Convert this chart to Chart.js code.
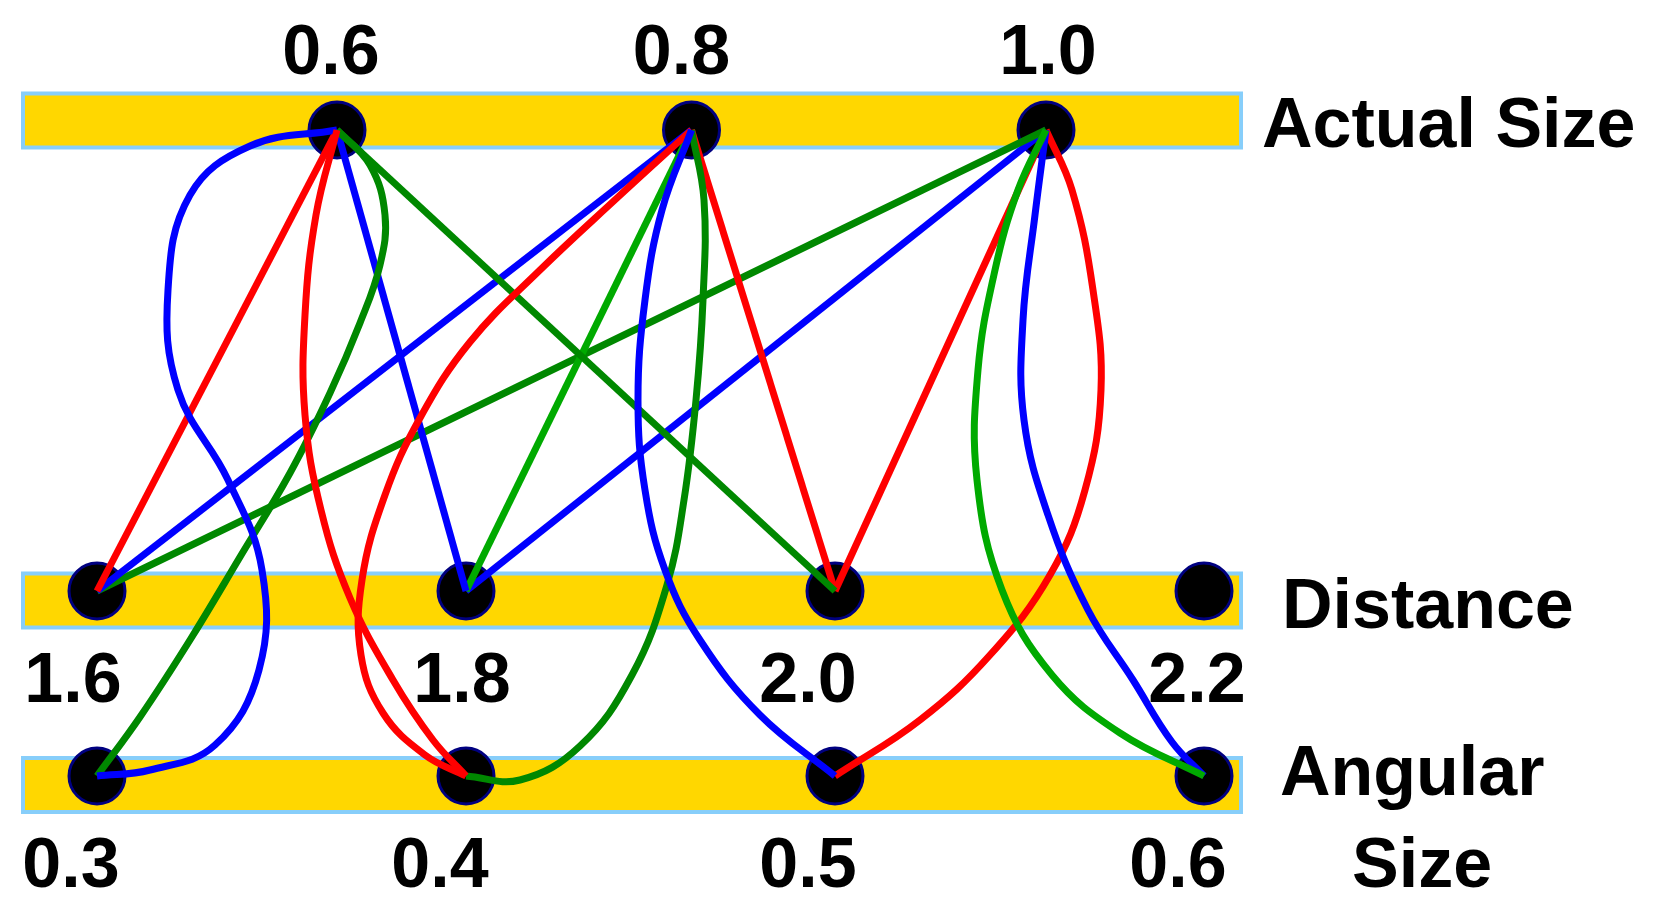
<!DOCTYPE html>
<html>
<head>
<meta charset="utf-8">
<script src="https://cdn.jsdelivr.net/npm/chart.js@4.4.1/dist/chart.umd.min.js"></script>
<style>
  body { margin: 0; background: #fff; }
  #wrap { width: 1653px; height: 912px; position: relative; }
</style>
</head>
<body>
<div id="wrap"><canvas id="myChart"></canvas></div>
<script>
// DATA

var actualSizes  = [0.6, 0.8, 1.0];
var distances    = [1.6, 1.8, 2.0, 2.2];
var angularSizes = [0.3, 0.4, 0.5, 0.6];

// every link: one actual size joined to one distance and to the angular size it gives
var linkSize     = [0.6, 0.6, 0.6, 0.8, 0.8, 0.8, 1.0, 1.0, 1.0];
var linkDistance = [1.6, 1.8, 2.0, 1.6, 1.8, 2.0, 1.6, 1.8, 2.0];
var linkAngular  = [0.4, 0.3, 0.3, 0.5, 0.4, 0.4, 0.6, 0.6, 0.5];

// STYLE / LAYOUT

var RED = '#ff0000', BLUE = '#0000ff', DKGREEN = '#008800', GREEN = '#00aa00';
var straightColor = [RED, BLUE, DKGREEN, BLUE, GREEN, RED, DKGREEN, BLUE, RED];
var curveColor    = [RED, BLUE, DKGREEN, BLUE, DKGREEN, RED, GREEN, BLUE, RED];

// rows in layout units (the axes run over the whole canvas)
var rows = {
  size:     { y: 130, bandY: 120.5, x0: 337, step: 354.5, v0: 0.6, dv: 0.2 },
  distance: { y: 591, bandY: 600.5, x0: 97,  step: 369,   v0: 1.6, dv: 0.2 },
  angular:  { y: 776, bandY: 785,   x0: 97,  step: 369,   v0: 0.3, dv: 0.1 }
};
function rowX(row, v) { return row.x0 + (v - row.v0) / row.dv * row.step; }

// bend points of the curved size -> angular links, by link index
var curveBends = [
  [[316,215],[305,315],[305,415],[321,510],[350,598],[393,680],[433,740]],
  [[250,146],[190,195],[168,290],[178,390],[228,480],[262,570],[259,670],[215,745],[150,770]],
  [[370,165],[385,215],[380,265],[360,323],[330,393],[290,473],[240,557],[190,640],[140,717]],
  [[662,210],[645,300],[638,400],[645,490],[665,570],[700,640],[760,715]],
  [[704,200],[703,300],[696,400],[684,500],[667,585],[632,675],[580,746],[520,780]],
  [[617,198],[540,270],[470,342],[420,418],[385,495],[362,580],[361,655],[383,713],[425,755]],
  [[1018,190],[995,270],[978,370],[977,480],[1002,590],[1052,675],[1120,733]],
  [[1035,215],[1023,320],[1024,420],[1048,515],[1088,610],[1133,680],[1172,742]],
  [[1072,190],[1093,290],[1101,390],[1085,490],[1050,575],[990,655],[920,720]]
];

var BAND_LEFT = 21, BAND_RIGHT = 1243;

// BUILD DATASETS

var datasets = [];

[rows.size, rows.distance, rows.angular].forEach(function (row) {
  datasets.push({
    data: [{ x: BAND_LEFT, y: row.bandY }, { x: BAND_RIGHT, y: row.bandY }],
    showLine: true, borderColor: '#87cefa', borderWidth: 58, borderCapStyle: 'butt',
    pointRadius: 0, order: 30
  });
  datasets.push({
    data: [{ x: BAND_LEFT + 4, y: row.bandY }, { x: BAND_RIGHT - 4, y: row.bandY }],
    showLine: true, borderColor: '#ffd700', borderWidth: 50, borderCapStyle: 'butt',
    pointRadius: 0, order: 20
  });
});

function dots(row, values) {
  return {
    data: values.map(function (v) { return { x: rowX(row, v), y: row.y }; }),
    showLine: false, pointRadius: 28, pointHoverRadius: 28,
    pointBackgroundColor: '#000', pointBorderColor: '#000080', pointBorderWidth: 3,
    order: 10
  };
}
datasets.push(dots(rows.size, actualSizes));
datasets.push(dots(rows.distance, distances));
datasets.push(dots(rows.angular, angularSizes));

linkSize.forEach(function (s, i) {
  var top = { x: rowX(rows.size, s), y: rows.size.y };
  var dist = { x: rowX(rows.distance, linkDistance[i]), y: rows.distance.y };
  var ang = { x: rowX(rows.angular, linkAngular[i]), y: rows.angular.y };

  datasets.push({
    data: [top, dist],
    showLine: true, borderColor: straightColor[i], borderWidth: 7,
    pointRadius: 0, order: 1
  });

  var pts = [top].concat(curveBends[i].map(function (p) { return { x: p[0], y: p[1] }; }), [ang]);
  datasets.push({
    data: pts,
    showLine: true, tension: 0.4, borderColor: curveColor[i], borderWidth: 7,
    borderJoinStyle: 'round', pointRadius: 0, order: 0
  });
});

// TEXT

var FONT = 'bold 70px "Liberation Sans", Arial, sans-serif';
var sizeLabelShift = [-6, -10, 2];
var distLabelShift = [-24, -4, -27, -7];
var angLabelShift  = [-26, -26, -27, -26];

var textPlugin = {
  id: 'textPlugin',
  afterDraw: function (chart) {
    var ctx = chart.ctx, sx = chart.scales.x, sy = chart.scales.y;
    ctx.save();
    ctx.fillStyle = '#000';
    ctx.font = FONT;
    ctx.textBaseline = 'alphabetic';
    ctx.textAlign = 'center';
    actualSizes.forEach(function (v, i) {
      ctx.fillText(v.toFixed(1), sx.getPixelForValue(rowX(rows.size, v) + sizeLabelShift[i]), sy.getPixelForValue(74));
    });
    distances.forEach(function (v, i) {
      ctx.fillText(v.toFixed(1), sx.getPixelForValue(rowX(rows.distance, v) + distLabelShift[i]), sy.getPixelForValue(702));
    });
    angularSizes.forEach(function (v, i) {
      ctx.fillText(v.toFixed(1), sx.getPixelForValue(rowX(rows.angular, v) + angLabelShift[i]), sy.getPixelForValue(887));
    });
    ctx.textAlign = 'left';
    ctx.fillText('Actual Size', sx.getPixelForValue(1262), sy.getPixelForValue(147));
    ctx.fillText('Distance', sx.getPixelForValue(1282), sy.getPixelForValue(628));
    ctx.fillText('Angular', sx.getPixelForValue(1280), sy.getPixelForValue(795));
    ctx.fillText('Size', sx.getPixelForValue(1352), sy.getPixelForValue(887));
    ctx.restore();
  }
};

// CHART

const myChart = new Chart('myChart', {
  type: 'scatter',
  data: { datasets: datasets },
  options: {
    responsive: true,
    maintainAspectRatio: false,
    animation: false,
    layout: { padding: 0, autoPadding: false },
    plugins: { legend: { display: false }, tooltip: { enabled: false } },
    scales: {
      x: { type: 'linear', min: 0, max: 1653, display: false },
      y: { type: 'linear', min: 0, max: 912, reverse: true, display: false }
    }
  },
  plugins: [textPlugin]
});
</script>
</body>
</html>
